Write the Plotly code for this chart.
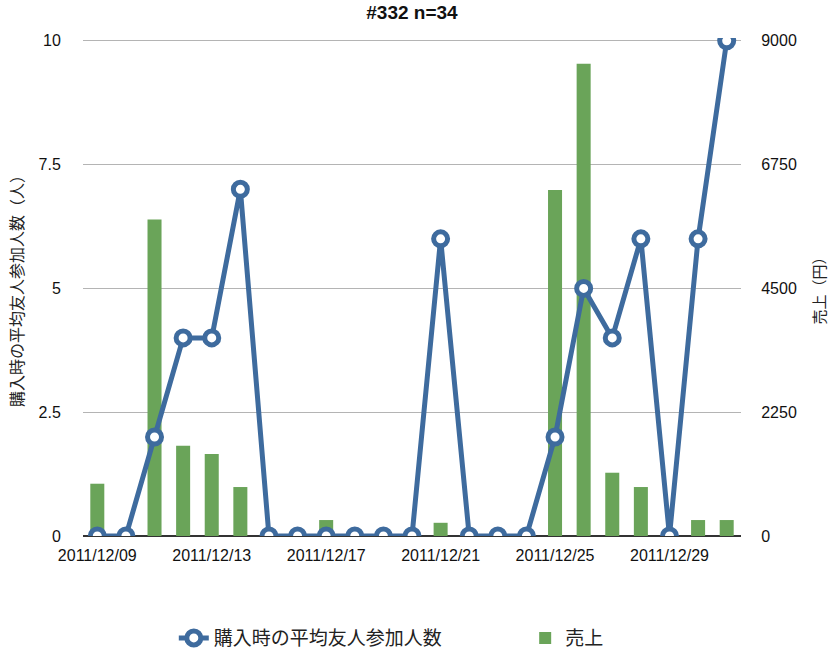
import plotly.graph_objects as go

# Daily data, 2011/12/09 - 2011/12/31
dates = ["2011/12/09", "2011/12/10", "2011/12/11", "2011/12/12", "2011/12/13",
         "2011/12/14", "2011/12/15", "2011/12/16", "2011/12/17", "2011/12/18",
         "2011/12/19", "2011/12/20", "2011/12/21", "2011/12/22", "2011/12/23",
         "2011/12/24", "2011/12/25", "2011/12/26", "2011/12/27", "2011/12/28",
         "2011/12/29", "2011/12/30", "2011/12/31"]
avg_friends = [0, 0, 2, 4, 4, 7, 0, 0, 0, 0, 0, 0, 6, 0, 0, 0, 2, 5, 4, 6, 0, 6, 10]
sales = [950, 0, 5750, 1640, 1490, 890, 0, 0, 290, 0, 0, 0, 240, 0, 0, 0,
         6290, 8580, 1150, 890, 0, 290, 290]
tick_dates = ["2011/12/09", "2011/12/13", "2011/12/17", "2011/12/21",
              "2011/12/25", "2011/12/29"]
left_ticks = [0, 2.5, 5, 7.5, 10]
right_ticks = [0, 2250, 4500, 6750, 9000]

BLUE = "#3e6b9e"
GREEN = "#6aa459"
FONT = "Liberation Sans, Arial, Noto Sans CJK JP, sans-serif"
CJK = "Noto Sans CJK JP, Liberation Sans, sans-serif"

# a little headroom above the top tick so its gridline is drawn
SALES_MAX = 9050
FRIENDS_MAX = 10 * SALES_MAX / 9000

fig = go.Figure()

fig.add_trace(go.Scatter(
    x=dates, y=avg_friends, name="購入時の平均友人参加人数",
    mode="lines+markers", yaxis="y2", legend="legend",
    line=dict(color=BLUE, width=5),
    marker=dict(symbol="circle", size=14, color="white",
                line=dict(color=BLUE, width=5)),
))
fig.add_trace(go.Bar(
    x=dates, y=sales, name="売上", yaxis="y", legend="legend2",
    marker=dict(color=GREEN, line=dict(width=0)),
))

legend_font = dict(family=CJK, size=19, color="#222")

fig.update_layout(
    width=832, height=658,
    margin=dict(l=83, r=91, t=38, b=122, autoexpand=False),
    paper_bgcolor="white", plot_bgcolor="white",
    font=dict(family=FONT, size=16, color="#111"),
    title=dict(text="<b>#332 n=34</b>", x=0.5, xref="paper", xanchor="center",
               y=0.981, yanchor="middle", font=dict(size=19, color="#111")),
    bargap=0.51,
    showlegend=True,
    legend=dict(orientation="h", x=0.138, xanchor="left", y=-0.205,
                yanchor="middle", font=legend_font, bgcolor="rgba(0,0,0,0)"),
    legend2=dict(orientation="h", x=0.672, xanchor="left", y=-0.205,
                 yanchor="middle", font=legend_font, bgcolor="rgba(0,0,0,0)"),
    xaxis=dict(
        type="category", range=[-0.5, 22.5],
        tickmode="array", tickvals=tick_dates, ticktext=tick_dates,
        showgrid=False, showline=False, zeroline=False,
        ticks="outside", ticklen=5, tickcolor="rgba(0,0,0,0)",
        tickfont=dict(size=16, color="#111"),
    ),
    yaxis=dict(
        side="right", range=[0, SALES_MAX], tickmode="array",
        tickvals=right_ticks,
        showgrid=True, gridcolor="#b4b4b4", gridwidth=1,
        zeroline=False, showline=False,
        ticks="outside", ticklen=16, tickcolor="rgba(0,0,0,0)",
        tickfont=dict(size=16, color="#111"),
        title=dict(text="売上（円）", font=dict(family=CJK, size=15, color="#222"),
                   standoff=18),
    ),
    yaxis2=dict(
        side="left", overlaying="y", range=[0, FRIENDS_MAX], tickmode="array",
        tickvals=left_ticks, ticktext=["0", "2.5", "5", "7.5", "10"],
        showgrid=False, zeroline=True, zerolinecolor="#333", zerolinewidth=2,
        showline=False,
        ticks="outside", ticklen=18, tickcolor="rgba(0,0,0,0)",
        tickfont=dict(size=16, color="#111"),
        title=dict(text="購入時の平均友人参加人数（人）",
                   font=dict(family=CJK, size=16, color="#222"), standoff=10),
    ),
)

fig.write_html("out.html")
